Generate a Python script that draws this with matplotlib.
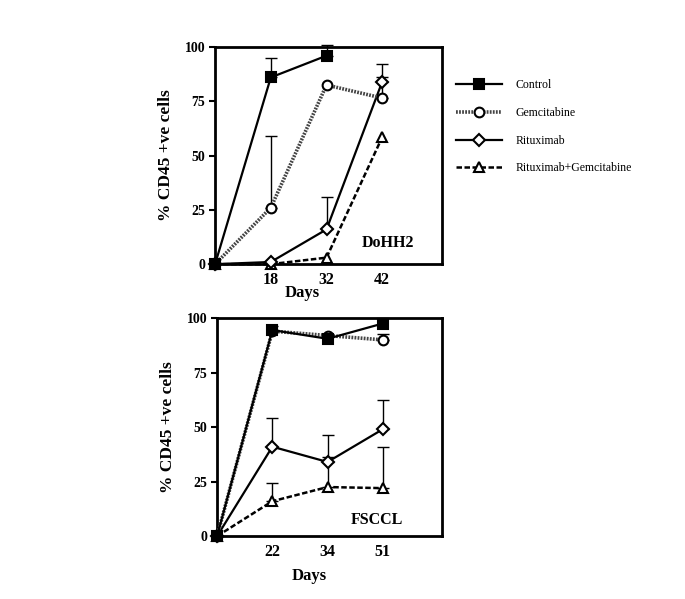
import numpy as np
import matplotlib
matplotlib.use('Agg')
import matplotlib.pyplot as plt

plt.rcParams['font.family'] = ['Liberation Serif', 'DejaVu Serif']

series = ['Control', 'Gemcitabine', 'Rituximab', 'Rituximab+Gemcitabine']

# DoHH2 panel
days_top = ['', '18', '32', '42']
top_vals = {
    'Control': [0, 86, 96, np.nan],
    'Gemcitabine': [0, 26, 82.5, 76.5],
    'Rituximab': [0, 1, 16, 84],
    'Rituximab+Gemcitabine': [0, 0, 3, 58.5],
}
top_upper = {
    'Control': [np.nan, 95, 101, np.nan],
    'Gemcitabine': [np.nan, 59, np.nan, 86],
    'Rituximab': [np.nan, np.nan, 31, 92],
    'Rituximab+Gemcitabine': [np.nan, np.nan, np.nan, np.nan],
}

# FSCCL panel
days_bot = ['', '22', '34', '51']
bot_vals = {
    'Control': [0, 94.5, 90.5, 97.5],
    'Gemcitabine': [0, 94, 92, 90],
    'Rituximab': [0, 41, 34, 49],
    'Rituximab+Gemcitabine': [0, 16, 22.5, 22],
}
bot_upper = {
    'Control': [np.nan, 96.5, np.nan, np.nan],
    'Gemcitabine': [np.nan, np.nan, np.nan, 92.5],
    'Rituximab': [np.nan, 54, 46.5, 62.5],
    'Rituximab+Gemcitabine': [np.nan, 24.5, 36.5, 41],
}

styles = {
    'Control': dict(marker='s', mfc='black', ls='-', color='black', lw=1.6, ms=6.5, z=6),
    'Gemcitabine': dict(marker='o', mfc='white', ls=(0, (0.5, 0.35)), color='#444444', lw=2.6, ms=7, z=5),
    'Rituximab': dict(marker='D', mfc='white', ls='-', color='black', lw=1.6, ms=6, z=4),
    'Rituximab+Gemcitabine': dict(marker='^', mfc='white', ls=(0, (2.2, 1.0)), color='black', lw=1.8, ms=7.5, z=3),
}


def draw_panel(ax, labels, vals, upper, name, name_xy, days_xy):
    x = np.arange(len(labels))
    for s in series:
        v = np.array(vals[s], dtype=float)
        u = np.array(upper[s], dtype=float)
        err = np.where(np.isnan(u), 0, u - v)
        ok = ~np.isnan(u)
        ax.errorbar(x[ok], v[ok], yerr=[np.zeros(ok.sum()), err[ok]], fmt='none',
                    ecolor='black', elinewidth=1, capsize=4, capthick=1, zorder=2, clip_on=False)
        st = styles[s]
        ax.plot(x, v, ls=st['ls'], color=st['color'], lw=st['lw'], marker=st['marker'],
                markersize=st['ms'], markerfacecolor=st['mfc'], markeredgecolor='black',
                markeredgewidth=1.5, zorder=st['z'], clip_on=False, label=s)
    ax.set_xlim(0, 4.07)
    ax.set_ylim(0, 100)
    ax.set_xticks(x[1:])
    ax.set_xticklabels(labels[1:], fontsize=11.5, fontweight='bold')
    ax.set_yticks([0, 25, 50, 75, 100])
    ax.set_yticklabels(['0', '25', '50', '75', '100'], fontsize=10, fontweight='bold')
    ax.tick_params(axis='x', length=0, pad=6)
    ax.tick_params(axis='y', direction='out', length=4, width=1.5, pad=3)
    for sp in ax.spines.values():
        sp.set_linewidth(2)
    ax.set_ylabel('% CD45 +ve cells', fontsize=12.5, fontweight='bold', labelpad=8)
    ax.set_xlabel('Days', fontsize=12, fontweight='bold')
    ax.xaxis.set_label_coords(*days_xy)
    ax.text(name_xy[0], name_xy[1], name, fontsize=11.5, fontweight='bold',
            ha='center', va='center')


fig = plt.figure(figsize=(6.85, 5.99), dpi=100)
ax1 = fig.add_axes([0.314, 0.559, 0.331, 0.3625])
ax2 = fig.add_axes([0.317, 0.105, 0.328, 0.364])

draw_panel(ax1, days_top, top_vals, top_upper, 'DoHH2', (3.1, 9.7), (0.385, -0.095))
draw_panel(ax2, days_bot, bot_vals, bot_upper, 'FSCCL', (2.9, 7.3), (0.41, -0.145))

handles, labels = ax1.get_legend_handles_labels()
fig.legend(handles, labels, loc='upper left', bbox_to_anchor=(0.659, 0.876),
           frameon=False, fontsize=8.5, handlelength=3.9, handletextpad=1.15,
           labelspacing=1.34, borderaxespad=0)

fig.savefig('out.png', dpi=100)
